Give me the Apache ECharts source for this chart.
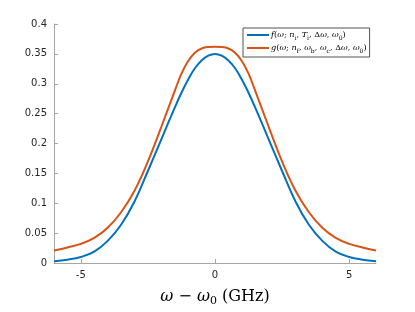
<!DOCTYPE html>
<html>
<head>
<meta charset="utf-8">
<script src="https://cdn.jsdelivr.net/npm/echarts@6/dist/echarts.min.js"></script>
<style>html,body{margin:0;padding:0;background:#fff}#c{width:415px;height:312px}</style>
</head>
<body>
<div id="c"></div>
<script>
var omega = [-6,-5.5,-5,-4.5,-4,-3.5,-3,-2.5,-2,-1.5,-1.25,-1,-0.75,-0.5,-0.25,0,0.25,0.5,0.75,1,1.25,1.5,2,2.5,3,3.5,4,4.5,5,5.5,6];
var fValues = [0.003,0.0055,0.010,0.019,0.037,0.064,0.103,0.154,0.207,0.260,0.285,0.307,0.326,0.339,0.347,0.350,0.347,0.339,0.326,0.307,0.285,0.260,0.207,0.154,0.103,0.064,0.037,0.019,0.010,0.0055,0.003];
var gValues = [0.021,0.026,0.032,0.042,0.059,0.085,0.121,0.170,0.228,0.288,0.317,0.338,0.352,0.359,0.3615,0.362,0.3615,0.359,0.352,0.338,0.317,0.288,0.228,0.170,0.121,0.085,0.059,0.042,0.032,0.026,0.021];
var xTicks = [-5,0,5];
var fName = 'f';
var gName = 'g';

var chart = echarts.init(document.getElementById('c'), null, {renderer:'canvas'});
function pairs(v){ return omega.map(function(x,i){return [x, v[i]];}); }
var serif = 'DejaVu Serif';
var fs = 8.2;
var sub = {fontFamily: serif, fontSize: 6, verticalAlign: 'bottom', lineHeight: 12, color:'#000'};
var it = {fontFamily: serif, fontStyle: 'italic', fontSize: fs, lineHeight: 12, color:'#000'};
var rm = {fontFamily: serif, fontSize: fs, lineHeight: 12, color:'#000'};
chart.setOption({
  animation: false,
  grid: {left: 54, right: 39, top: 24, bottom: 41},
  xAxis: {
    type: 'value', min: -6, max: 6,
    axisLine: {show: true, onZero: false, lineStyle: {color: '#a6a6a6', width: 1}},
    axisTick: {inside: true, length: 4, customValues: xTicks, lineStyle: {color: '#a6a6a6'}},
    axisLabel: {customValues: xTicks, color: '#262626', fontSize: 10, fontFamily: 'DejaVu Sans', margin: 7},
    splitLine: {show: false},
    name: '{i|ω} − {i|ω}{s|0} (GHz)',
    nameLocation: 'middle', nameGap: 24,
    nameTextStyle: {fontFamily: serif, fontSize: 16, color: '#000',
      rich: {i: {fontFamily: serif, fontStyle: 'italic', fontSize: 16, lineHeight: 20}, s: {fontFamily: serif, fontSize: 11, verticalAlign: 'bottom', lineHeight: 20}}}
  },
  yAxis: {
    type: 'value', min: 0, max: 0.4, interval: 0.05,
    axisLine: {show: true, onZero: false, lineStyle: {color: '#a6a6a6', width: 1}},
    axisTick: {show: true, inside: true, length: 4, lineStyle: {color: '#a6a6a6'}},
    axisLabel: {color: '#262626', fontSize: 10, fontFamily: 'DejaVu Sans', margin: 7},
    splitLine: {show: false}
  },
  legend: {
    left: 243, top: 28, orient: 'vertical',
    backgroundColor: '#fff', borderColor: '#262626', borderWidth: 0.8, borderRadius: 0,
    padding: [3, 3, 3, 4], itemGap: 3, itemWidth: 22, itemHeight: 2, icon: 'rect',
    textStyle: {fontSize: fs, fontFamily: serif, padding: [0,0,0,-3],
      rich: {i: it, r: rm, s: sub}},
    formatter: function(n){
      if (n === fName) return '{i|f}{r|(}{i|ω}{r|; }{i|n}{s|i}{r|, }{i|T}{s|i}{r|, Δ}{i|ω}{r|, }{i|ω}{s|0}{r|)}';
      return '{i|g}{r|(}{i|ω}{r|; }{i|n}{s|f}{r|, }{i|ω}{s|b}{r|, }{i|ω}{s|c}{r|, Δ}{i|ω}{r|, }{i|ω}{s|0}{r|)}';
    }
  },
  series: [
    {name: fName, type: 'line', data: pairs(fValues), smooth: 0.4, symbol: 'none', lineStyle: {color: '#0072BD', width: 2}, itemStyle: {color: '#0072BD'}},
    {name: gName, type: 'line', data: pairs(gValues), smooth: 0.4, symbol: 'none', lineStyle: {color: '#D95319', width: 2}, itemStyle: {color: '#D95319'}}
  ]
});
</script>
</body>
</html>
